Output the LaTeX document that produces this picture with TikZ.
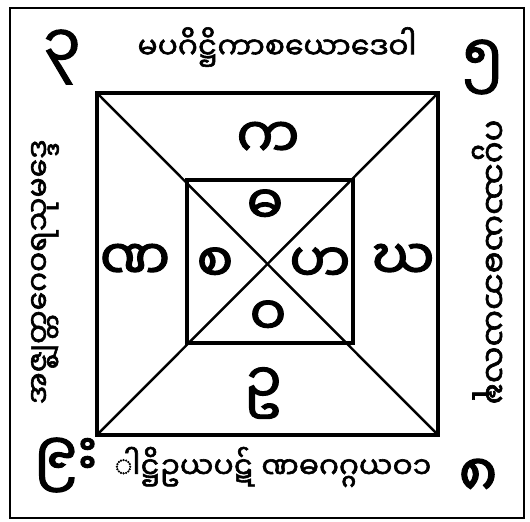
\documentclass[tikz,border=0pt]{standalone}
\usepackage{fontspec}
\newfontfamily\mymr[Script=Myanmar,FakeBold=2]{Noto Sans Myanmar UI}
\usetikzlibrary{calc}
\tikzset{
  frameline/.style={line width=1.2pt},
  boxline/.style={line width=1.9pt},
  diag/.style={line width=1.4pt},
  digit/.style={font=\mymr\fontsize{34}{34}\selectfont,inner sep=0pt},
  outletter/.style={font=\mymr\fontsize{32}{32}\selectfont,inner sep=0pt},
  inletter/.style={font=\mymr\fontsize{31}{31}\selectfont,inner sep=0pt},
  band/.style={font=\mymr\fontsize{17}{17}\selectfont,inner sep=0pt},
}

\begin{document}
\begin{tikzpicture}[x=0.2mm,y=-0.2mm]
  \useasboundingbox (0,0) rectangle (530,522);
  % frame and squares
  \draw[frameline] (10,8) rectangle (524,518);
  \coordinate (otl) at (97,93);  \coordinate (otr) at (438,93);
  \coordinate (obl) at (97,435); \coordinate (obr) at (438,435);
  \coordinate (itl) at (187,180); \coordinate (itr) at (353,180);
  \coordinate (ibl) at (187,343); \coordinate (ibr) at (353,343);
  \draw[boxline] (otl) -- (otr) -- (obr) -- (obl) -- cycle;
  \draw[boxline] (itl) -- (itr) -- (ibr) -- (ibl) -- cycle;
  \draw[diag] (otl) -- (obr);
  \draw[diag] (otr) -- (obl);

  % corner digits
  \node[digit] (d1) at (62,57) {၃};
  \node[digit] (d2) at (483,67) {၅};
  \node[digit] (d3) at (66,465) {၉း};
  \node[digit] (d4) at (478,478) {၈};

  % texts round the border
  \node[band] (ttop) at (277,47) {မပဂိဋ္ဌိကာစယောဒေဝါ};
  \node[band] (tbot) at (273,467) {ါဋ္ဌိဥယပဋ် ဏဓဂဂ္ဂယဝ၁};
  \node[band,rotate=90] (tlft) at (45,272) {အဇ္ဈတ္တဂေဝရသုမဒ္ဒေ};
  \node[band,rotate=-90,font=\mymr\fontsize{18.5}{18.5}\selectfont] (trgt) at (487,262) {ဂပ္ပဿယဓဘယလဍ္ဎ};

  % letters between the squares
  \node[outletter] (lk) at (268,140) {က};
  \node[outletter] (ln) at (135,262) {ဏ};
  \node[outletter] (lg) at (403,262) {ဃ};
  \node[outletter] (lu) at (263,393) {ဥ};

  % letters in the inner square
  \node[inletter] (ld) at (265,207) {ဓ};
  \node[inletter] (ls) at (215,265) {စ};
  \node[inletter] (lh) at (320,265) {ဟ};
  \node[inletter] (lw) at (268,318) {ဝ};
\end{tikzpicture}
\end{document}
